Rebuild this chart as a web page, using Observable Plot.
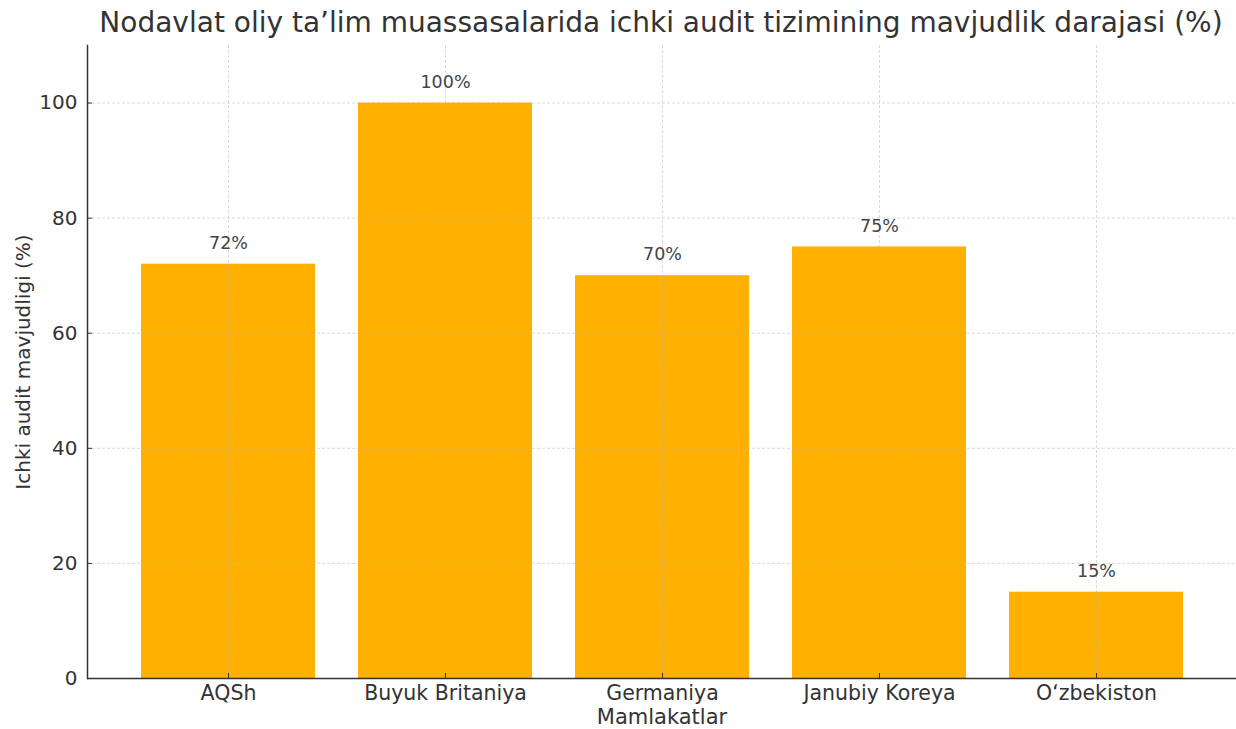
<!DOCTYPE html>
<html>
<head>
<meta charset="utf-8">
<script src="https://cdn.jsdelivr.net/npm/d3@7"></script>
<script src="https://cdn.jsdelivr.net/npm/@observablehq/plot@0.6"></script>
<style>
  html, body { margin: 0; padding: 0; background: #fff; }
  body { width: 1236px; height: 729px; overflow: hidden; font-family: "DejaVu Sans", sans-serif; }
  #title { height: 38px; width: 1236px; position: relative; }
  #title span { position: absolute; left: 0; width: 1322px; text-align: center; top: 6px; font-size: 28px; line-height: 34px; color: #333; white-space: nowrap; }
</style>
</head>
<body>
<div id="title"><span>Nodavlat oliy ta’lim muassasalarida ichki audit tizimining mavjudlik darajasi (%)</span></div>
<div id="chart"></div>
<script>
const countries = ["AQSh", "Buyuk Britaniya", "Germaniya", "Janubiy Koreya", "O‘zbekiston"];
const values = [72, 100, 70, 75, 15];
const yTicks = [0, 20, 40, 60, 80, 100];
const xLabel = "Mamlakatlar";
const yLabel = "Ichki audit mavjudligi (%)";

const data = countries.map((c, i) => ({country: c, value: values[i]}));

const chart = Plot.plot({
  width: 1236,
  height: 691,
  marginLeft: 87,
  marginRight: 0,
  marginTop: 7,
  marginBottom: 51,
  style: {fontFamily: "DejaVu Sans, sans-serif", color: "#333", background: "#fff"},
  x: {domain: countries, paddingInner: 0.2, paddingOuter: 0.24},
  y: {domain: [0, 110]},
  marks: [
    Plot.barY(data, {x: "country", y: "value", fill: "#FFB000"}),
    Plot.ruleY(yTicks.filter(d => d > 0), {stroke: "#b0b0b0", strokeOpacity: 0.6, strokeDasharray: "3,2", strokeWidth: 0.8}),
    Plot.ruleX(countries, {x: d => d, stroke: "#b0b0b0", strokeOpacity: 0.6, strokeDasharray: "3,2", strokeWidth: 0.8}),
    Plot.text(data, {x: "country", y: "value", text: d => d.value + "%", dy: -21, fontSize: 17.5, fill: "#444", lineAnchor: "middle"}),
    Plot.axisY({ticks: yTicks, tickSize: -5, tickPadding: 15, fontSize: 20, label: yLabel, labelAnchor: "center", labelOffset: 72, labelArrow: "none"}),
    Plot.axisX({tickSize: -5, tickPadding: 12, fontSize: 20.5, label: null}),
    Plot.text([xLabel], {frameAnchor: "bottom", dy: 39, fontSize: 21, fill: "#333", lineAnchor: "middle"}),
    Plot.ruleY([0], {stroke: "#333", strokeWidth: 1.5}),
    Plot.frame({anchor: "left", stroke: "#333", strokeWidth: 1.5})
  ]
});
document.getElementById("chart").appendChild(chart);
</script>
</body>
</html>
